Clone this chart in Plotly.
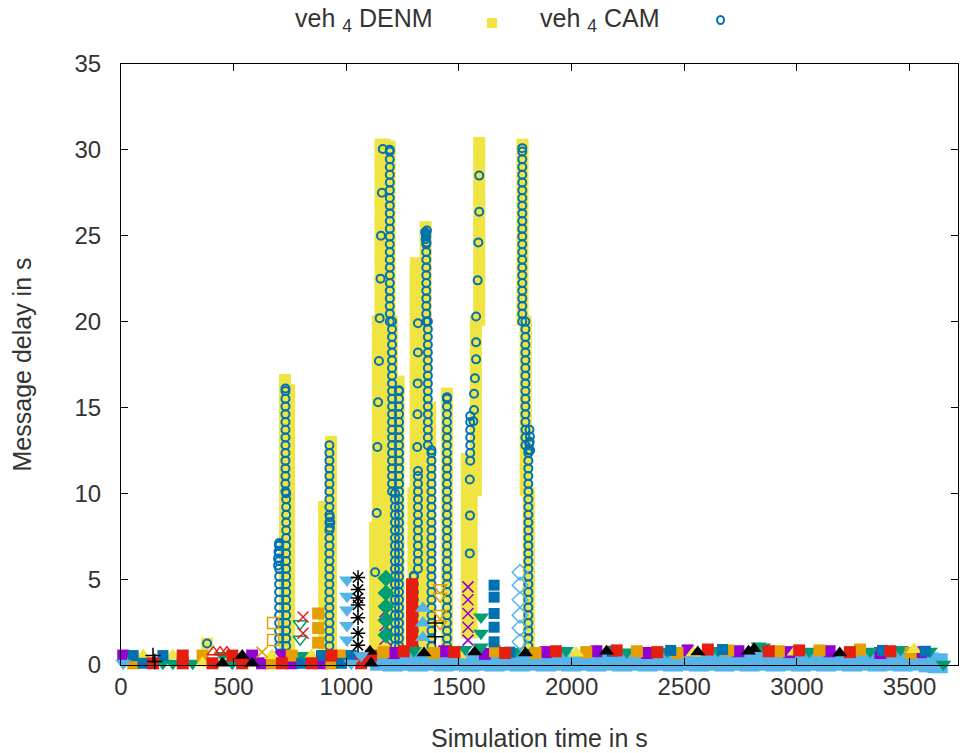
import plotly.graph_objects as go

# ---------------- veh 4 DENM (generation time [s], delay [s]) ----------------
# typical spacing of consecutive DENM delays inside one delivery burst
denm_grid = [0.3, 0.8, 1.4, 1.9, 2.5, 3.0, 3.6, 4.1, 4.7, 5.2, 5.8, 6.3, 6.9, 7.4, 8.0,
             8.5, 9.1, 9.6, 10.2, 10.7, 11.3, 11.8, 12.4, 12.9, 13.5, 14.0, 14.6, 15.1,
             15.7, 16.2, 16.8, 17.3, 17.9, 18.4, 19.0, 19.5, 20.1, 20.6, 21.2, 21.7,
             22.3, 22.8, 23.4, 23.9, 24.5, 25.0, 25.6, 26.1, 26.7, 27.2, 27.8, 28.3,
             28.9, 29.4, 30.0]
denm_seg_t = [728, 746, 902, 932, 1128, 1140, 1152, 1170, 1192, 1202, 1213, 1232, 1308,
              1298, 1330, 1352, 1372, 1447, 1590, 1575, 1556, 1535, 1782, 1796, 1810]
denm_seg_lo = [0, 0, 0, 0, 0, 8, 20, 0, 20, 10, 0, 0, 10, 0, 0, 15, 0, 0, 20, 10, 1.5,
               1.5, 20, 10, 0.8]
denm_seg_hi = [16.6, 16.0, 9.2, 13.0, 8, 20, 30.3, 30.3, 30.2, 20, 10, 16.5, 23.4, 10,
               23.0, 25.5, 15, 15.8, 30.4, 20, 10, 12, 30.3, 20, 10]
denm_extra_t = [382]
denm_extra_v = [1.25]

# ---------------- veh 4 CAM ----------------
cam_grid = [0.2, 0.65, 1.1, 1.55, 2.0, 2.45, 2.9, 3.35, 3.8, 4.25, 4.7, 5.15, 5.6, 6.05,
            6.5, 6.95, 7.4, 7.85, 8.3, 8.75, 9.2, 9.65, 10.1, 10.55, 11.0, 11.45, 11.9,
            12.35, 12.8, 13.25, 13.7, 14.15, 14.6, 15.05, 15.5, 15.95, 16.4, 16.85, 17.3,
            17.75, 18.2, 18.65, 19.1, 19.55, 20.0, 20.45, 20.9, 21.35, 21.8, 22.25, 22.7,
            23.15, 23.6, 24.05, 24.5, 24.95, 25.4, 25.85, 26.3, 26.75, 27.2, 27.65, 28.1,
            28.55, 29.0, 29.45, 29.9]
cam_seg_t = [733, 730, 702, 925, 1193, 1203, 1216, 1234, 1355, 1362, 1378, 1318, 1300,
             1447, 1550, 1781, 1795, 1808]
cam_seg_lo = [0.5, 10, 0.5, 0.5, 20, 10, 0.8, 0.8, 20, 12.5, 0.8, 5.2, 0.8, 0.8, 11.6,
              20, 12.5, 0.8]
cam_seg_hi = [10, 16.1, 7.1, 12.8, 30.0, 20, 10, 16.0, 25.1, 20, 12.5, 11.3, 5.2, 15.6,
              14.5, 30.1, 20, 12.5]
cam_pt_t = [382,
            1162, 1158, 1154, 1152, 1148, 1145, 1141, 1138, 1135, 1128,
            1318, 1318, 1317, 1316, 1315,
            1590, 1590, 1586, 1583, 1576, 1576, 1576, 1571, 1567, 1567, 1564,
            1548, 1549, 1548,
            1350, 1354, 1358, 1352, 1356,
            697, 699, 701, 697,
            1813, 1815, 1812, 1816, 1814,
            927, 929, 927]
cam_pt_v = [1.25,
            30.05, 27.5, 25.0, 22.5, 20.2, 17.7, 15.3, 12.7, 8.85, 5.4,
            19.9, 18.2, 16.4, 14.6, 12.7,
            28.5, 26.4, 24.6, 22.4, 20.3, 18.8, 17.8, 16.7, 15.8, 14.85, 14.2,
            10.8, 8.7, 6.5,
            25.2, 25.0, 25.3, 24.8, 24.6,
            6.2, 6.6, 7.0, 5.8,
            13.7, 13.3, 12.9, 12.5, 13.0,
            8.0, 8.3, 8.6]

# ---------------- other vehicles (no legend entry) ----------------
lblue_sq_t = [1150, 1205, 1262, 1318, 1375, 1430, 1488, 1545, 1600, 1658, 1715, 1770,
              1828, 1885, 1940, 1998, 2055, 2110, 2168, 2225, 2280, 2338, 2395, 2450,
              2508, 2565, 2620, 2678, 2735, 2790, 2848, 2905, 2960, 3018, 3075, 3130,
              3188, 3245, 3300, 3358, 3415, 3470, 3528, 3585, 3625]
lblue_sq_v = [0.25, 0.2, 0.25, 0.2, 0.25, 0.2, 0.25, 0.2, 0.25, 0.2, 0.25, 0.2, 0.25,
              0.2, 0.25, 0.2, 0.25, 0.2, 0.25, 0.2, 0.25, 0.2, 0.25, 0.2, 0.25, 0.2,
              0.25, 0.2, 0.25, 0.2, 0.25, 0.2, 0.25, 0.2, 0.25, 0.2, 0.25, 0.2, 0.25,
              0.2, 0.25, 0.2, 0.25, 0.15, 0.1]
lblue_td_t = [1003, 1003, 1003, 1003, 1003, 10, 1022, 1066]
lblue_td_v = [4.95, 4.0, 3.2, 2.3, 1.45, 0.1, 0.1, 0.55]
lblue_tu_t = [1340, 1340, 1340]
lblue_tu_v = [3.3, 2.45, 1.6]
lblue_do_t = [1771, 1771, 1771, 1771, 1771, 1771]
lblue_do_v = [5.4, 4.65, 3.8, 2.9, 2.15, 1.35]
purple_sq_t = [626, 758, 890, 10, 582, 714, 1210, 1435, 1615, 1885, 2110, 2335, 2515,
               2740, 2965, 3145, 3370, 3550]
purple_sq_v = [0.1, 0.1, 0.1, 0.55, 0.55, 0.55, 0.7, 0.8, 0.65, 0.75, 0.8, 0.7, 0.85,
               0.8, 0.75, 0.8, 0.7, 0.75]
purple_x_t = [1540, 1540, 1540, 1540, 1540, 1172, 1172, 1172]
purple_x_v = [4.55, 3.8, 3.0, 2.2, 1.45, 3.1, 2.3, 1.5]
green_td_t = [186, 230, 318, 494, 450, 802, 1598, 1598, 1598, 1300, 1525, 1750, 1975,
              2245, 2425, 2650, 2830, 2850, 3055, 3325, 3460, 3590, 3650]
green_td_v = [0.1, 0.1, 0.1, 0.1, 0.55, 0.55, 2.8, 1.85, 1.05, 0.85, 0.9, 0.8, 0.85,
              0.75, 0.8, 0.85, 1.1, 1.05, 0.8, 0.8, 0.9, 0.8, 0.05]
green_diam_t = [1176, 1176, 1176, 1176, 1176]
green_diam_v = [5.05, 4.2, 3.4, 2.6, 1.75]
green_tdo_t = [795, 795]
green_tdo_v = [2.4, 1.5]
orange_sq_t = [54, 362, 670, 758, 934, 978, 875, 875, 875, 1165, 1390, 1660, 1840, 2065,
               2290, 2470, 2695, 2920, 3100, 3280, 3505]
orange_sq_v = [0.1, 0.55, 0.1, 0.55, 0.1, 0.55, 3.0, 2.15, 1.3, 0.75, 0.7, 0.8, 0.7,
               0.75, 0.8, 0.7, 0.85, 0.8, 0.85, 0.9, 0.7]
orange_sqo_t = [675, 675]
orange_sqo_v = [2.45, 1.45]
orange_tdo_t = [1416, 1416, 1416, 1416]
orange_tdo_v = [4.5, 4.0, 3.0, 2.4]
orange_x_t = [626]
orange_x_v = [0.75]
yellow_tu_t = [362, 98, 230, 670, 846, 1500, 2020, 2540, 2990, 3520]
yellow_tu_v = [0.1, 0.55, 0.55, 0.55, 0.55, 0.6, 0.7, 0.7, 0.75, 0.9]
blue_sq_t = [98, 54, 186, 802, 890, 978, 1022, 1656, 1656, 1656, 1656, 1656, 1725, 2180,
             2440, 2670, 3380, 3570]
blue_sq_v = [0.1, 0.55, 0.55, 0.1, 0.55, 0.1, 0.55, 4.65, 3.95, 3.0, 2.2, 1.35, 0.75,
             0.8, 0.85, 0.9, 0.85, 0.8]
red_sq_t = [142, 274, 274, 406, 538, 494, 714, 846, 934, 1066, 1110, 1292, 1292, 1292,
            1292, 1292, 1292, 1292, 1292, 1255, 1480, 1705, 1930, 2200, 2380, 2605, 2875,
            3010, 3235, 3415]
red_sq_v = [0.1, 0.1, 0.55, 0.1, 0.1, 0.55, 0.1, 0.1, 0.55, 0.1, 0.55, 4.7, 4.3, 3.9,
            3.3, 2.9, 2.4, 1.9, 1.4, 0.8, 0.75, 0.7, 0.8, 0.85, 0.75, 0.9, 0.8, 0.85,
            0.75, 0.8]
red_x_t = [808, 808]
red_x_v = [2.8, 1.85]
red_tuo_t = [410, 440, 470]
red_tuo_v = [0.75, 0.75, 0.75]
black_star_t = [1052, 1052, 1052, 1052, 1052, 1052, 1052]
black_star_v = [5.1, 4.4, 3.9, 3.5, 2.75, 1.85, 1.15]
black_tu_t = [1105, 450, 582, 1110, 538, 1345, 1570, 1795, 2155, 2560, 2785, 2810, 3190]
black_tu_v = [0.8, 0.1, 0.1, 0.1, 0.55, 0.7, 0.75, 0.7, 0.8, 0.75, 0.8, 0.95, 0.7]
black_plus_t = [1394, 1394, 142, 150]
black_plus_v = [2.45, 1.65, 0.55, 0.2]

x_ticks = [0, 500, 1000, 1500, 2000, 2500, 3000, 3500]
y_ticks = [0, 5, 10, 15, 20, 25, 30, 35]

FONT = "Liberation Sans, Arial, sans-serif"
TXT = "#333333"


def expand(seg_t, seg_lo, seg_hi, grid):
    xs, ys = [], []
    for t, lo, hi in zip(seg_t, seg_lo, seg_hi):
        vals = [d for d in grid if lo <= d < hi] + [hi]
        xs += [t] * len(vals)
        ys += vals
    return xs, ys


fig = go.Figure()

dx, dy = expand(denm_seg_t, denm_seg_lo, denm_seg_hi, denm_grid)
fig.add_trace(go.Scatter(x=dx + denm_extra_t, y=dy + denm_extra_v, mode="markers",
                         name="veh 4 DENM", cliponaxis=False,
                         marker=dict(symbol="square", size=12, color="#F0E442",
                                     line=dict(width=0))))
cx, cy = expand(cam_seg_t, cam_seg_lo, cam_seg_hi, cam_grid)
fig.add_trace(go.Scatter(x=cx + cam_pt_t, y=cy + cam_pt_v, mode="markers",
                         name="veh 4 CAM", cliponaxis=False,
                         marker=dict(symbol="circle-open", size=8, color="#0072B2",
                                     line=dict(width=2, color="#0072B2"))))

others = [
    (lblue_sq_t, lblue_sq_v, "#56B4E9", "square", 20, 0),
    (purple_sq_t, purple_sq_v, "#9400D3", "square", 12, 0),
    (green_td_t, green_td_v, "#009E73", "triangle-down", 14, 0),
    (orange_sq_t, orange_sq_v, "#E69F00", "square", 12, 0),
    (yellow_tu_t, yellow_tu_v, "#F0E442", "triangle-up", 14, 0),
    (blue_sq_t, blue_sq_v, "#0072B2", "square", 11, 0),
    (red_sq_t, red_sq_v, "#E51E10", "square", 12, 0),
    (black_tu_t, black_tu_v, "#000000", "triangle-up", 13, 0),
    (lblue_td_t, lblue_td_v, "#56B4E9", "triangle-down", 14, 0),
    (purple_x_t, purple_x_v, "#9400D3", "x-thin-open", 11, 1.5),
    (green_diam_t, green_diam_v, "#009E73", "diamond", 13, 0),
    (green_tdo_t, green_tdo_v, "#009E73", "triangle-down-open", 12, 1.5),
    (lblue_tu_t, lblue_tu_v, "#56B4E9", "triangle-up", 14, 0),
    (lblue_do_t, lblue_do_v, "#56B4E9", "diamond-open", 12, 1.5),
    (orange_sqo_t, orange_sqo_v, "#E69F00", "square-open", 11, 1.5),
    (orange_tdo_t, orange_tdo_v, "#E69F00", "triangle-down-open", 12, 1.5),
    (orange_x_t, orange_x_v, "#E69F00", "x-thin-open", 11, 1.5),
    (red_x_t, red_x_v, "#E51E10", "x-thin-open", 11, 1.5),
    (red_tuo_t, red_tuo_v, "#E51E10", "triangle-up-open", 11, 1.5),
    (black_star_t, black_star_v, "#000000", "asterisk-open", 12, 1.5),
    (black_plus_t, black_plus_v, "#000000", "cross-thin-open", 11, 1.5),
]
for tx, ty, col, sym, sz, lw in others:
    fig.add_trace(go.Scatter(x=tx, y=ty, mode="markers", showlegend=False,
                             cliponaxis=False,
                             marker=dict(symbol=sym, size=sz, color=col,
                                         line=dict(width=lw, color=col))))

axis_common = dict(showline=True, linecolor="black", linewidth=1, mirror="ticks",
                   ticks="inside", ticklen=7, tickcolor="black", showgrid=False,
                   zeroline=False, tickfont=dict(family=FONT, size=24, color=TXT))
fig.update_layout(
    width=960, height=753,
    margin=dict(l=121, r=2, t=64, b=88),
    paper_bgcolor="white", plot_bgcolor="white",
    showlegend=False,
    xaxis=dict(range=[0, 3715], tickvals=x_ticks, **axis_common),
    yaxis=dict(range=[0, 35], tickvals=y_ticks, ticklabelstandoff=14, **axis_common),
    annotations=[
        dict(text="Simulation time in s", xref="paper", yref="paper", x=0.5, y=-0.1215,
             showarrow=False, xanchor="center", yanchor="middle",
             font=dict(family=FONT, size=25, color=TXT)),
        dict(text="Message delay in s", xref="paper", yref="paper", x=-0.1183, y=0.5,
             textangle=-90, showarrow=False, xanchor="center", yanchor="middle",
             font=dict(family=FONT, size=25, color=TXT)),
        dict(text="veh <sub>4</sub> DENM", xref="paper", yref="paper", x=0.3751,
             y=1.0732, showarrow=False, xanchor="right", yanchor="middle",
             font=dict(family=FONT, size=25, color=TXT)),
        dict(text="veh <sub>4</sub> CAM", xref="paper", yref="paper", x=0.6464,
             y=1.0732, showarrow=False, xanchor="right", yanchor="middle",
             font=dict(family=FONT, size=25, color=TXT)),
    ],
    shapes=[
        dict(type="rect", xref="paper", yref="paper", x0=0.4373, x1=0.4492,
             y0=1.0599, y1=1.0765, fillcolor="#F0E442", line=dict(width=0)),
        dict(type="circle", xref="paper", yref="paper", x0=0.7121, x1=0.7205,
             y0=1.0665, y1=1.0799, fillcolor="rgba(0,0,0,0)",
             line=dict(width=2, color="#0072B2")),
    ],
)
fig.write_html("out.html")
